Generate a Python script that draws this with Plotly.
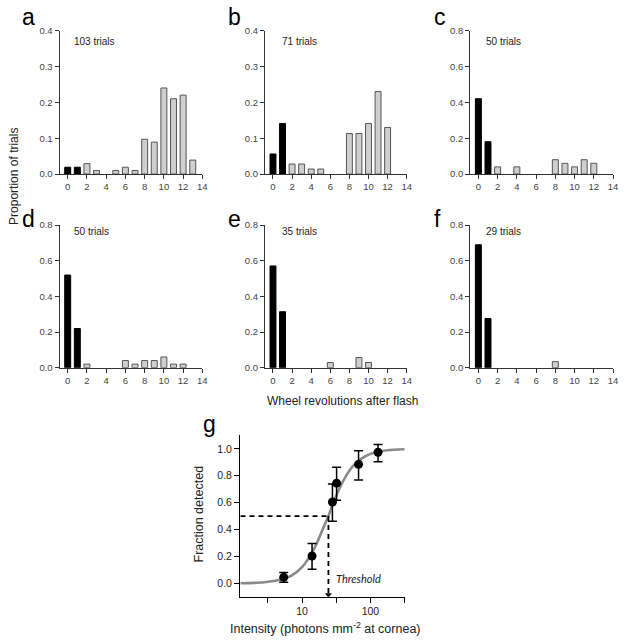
import plotly.graph_objects as go

W, H = 624, 640

# ---------------- data ----------------
revolutions = list(range(14))
panel_letters = ["a", "b", "c", "d", "e", "f"]
panel_trials = ["103 trials", "71 trials", "50 trials", "50 trials", "35 trials", "29 trials"]
prop_a = [0.019, 0.019, 0.029, 0.010, 0.0, 0.010, 0.019, 0.010, 0.097, 0.089, 0.240, 0.210, 0.220, 0.039]
prop_b = [0.056, 0.141, 0.028, 0.028, 0.014, 0.014, 0.0, 0.0, 0.113, 0.113, 0.141, 0.230, 0.130, 0.0]
prop_c = [0.42, 0.18, 0.04, 0.0, 0.04, 0.0, 0.0, 0.0, 0.08, 0.06, 0.04, 0.08, 0.06, 0.0]
prop_d = [0.52, 0.22, 0.02, 0.0, 0.0, 0.0, 0.04, 0.02, 0.04, 0.04, 0.06, 0.02, 0.02, 0.0]
prop_e = [0.571, 0.314, 0.0, 0.0, 0.0, 0.0, 0.029, 0.0, 0.0, 0.057, 0.029, 0.0, 0.0, 0.0]
prop_f = [0.69, 0.276, 0.0, 0.0, 0.0, 0.0, 0.0, 0.0, 0.034, 0.0, 0.0, 0.0, 0.0, 0.0]
panel_props = [prop_a, prop_b, prop_c, prop_d, prop_e, prop_f]
panel_ymax = [0.4, 0.4, 0.8, 0.8, 0.8, 0.8]

intensity = [5.4, 14.0, 27.8, 32.0, 67.0, 129.0]
fraction = [0.044, 0.203, 0.605, 0.745, 0.885, 0.975]
err_plus = [0.036, 0.092, 0.133, 0.118, 0.102, 0.058]
err_minus = [0.037, 0.099, 0.143, 0.128, 0.116, 0.071]

curve_intensity = [1.26, 2, 3, 5, 7, 10, 13, 16, 20, 24.3, 30, 40, 55, 75, 100, 150, 220, 316]
curve_fraction = [0.0, 0.003, 0.009, 0.027, 0.056, 0.12, 0.2, 0.285, 0.4, 0.5, 0.625, 0.763, 0.87, 0.93, 0.963, 0.985, 0.994, 0.997]
threshold = 24.3
threshold_level = 0.5

g_major_ticks = [10, 100]
g_minor_ticks = [3.162, 31.62, 316.2]

# ---------------- layout geometry (px) ----------------
col_px = [(60, 204), (267, 410), (474, 618)]
row_px = [(25, 171), (223, 368)]

def xd(a, b):
    return [a / W, b / W]

def yd(top, bottom):
    return [1 - bottom / H, 1 - top / H]

FONT = "Liberation Sans, Arial, sans-serif"
AX = "#333333"

fig = go.Figure()
layout = dict(
    width=W, height=H, margin=dict(l=0, r=0, t=0, b=0),
    paper_bgcolor="white", plot_bgcolor="white", showlegend=False,
    font=dict(family=FONT, color="#222"),
)
annotations = []

for i, props in enumerate(panel_props):
    r, c = divmod(i, 3)
    n = i + 1
    xa = "x" if n == 1 else f"x{n}"
    ya = "y" if n == 1 else f"y{n}"
    nz = [(x, y) for x, y in zip(revolutions, props) if y > 0]
    blk = [(x, y) for x, y in nz if x < 2]
    gry = [(x, y) for x, y in nz if x >= 2]
    fig.add_trace(go.Bar(x=[p[0] for p in gry], y=[p[1] for p in gry], width=0.62,
                         xaxis=xa, yaxis=ya,
                         marker=dict(color="#cfcfcf", line=dict(color="#555555", width=1))))
    fig.add_trace(go.Bar(x=[p[0] for p in blk], y=[p[1] for p in blk], width=0.62,
                         xaxis=xa, yaxis=ya,
                         marker=dict(color="black", line=dict(color="black", width=1))))
    ymax = panel_ymax[i]
    step = 0.1 if ymax < 0.5 else 0.2
    yt = [round(k * step, 2) for k in range(int(round(ymax / step)) + 1)]
    layout["xaxis" if n == 1 else f"xaxis{n}"] = dict(
        domain=xd(*col_px[c]), anchor=ya, range=[-0.85, 14.001],
        tickvals=list(range(0, 15, 2)), ticks="outside", ticklen=4, tickcolor=AX,
        showline=True, linecolor=AX, linewidth=1, showgrid=False, zeroline=False,
        ticklabeloverflow="allow",
        tickfont=dict(size=9.5, color="#444"), fixedrange=True)
    layout["yaxis" if n == 1 else f"yaxis{n}"] = dict(
        domain=yd(*row_px[r]), anchor=xa, range=[0, ymax],
        tickvals=yt, tickformat=".1f", ticks="outside", ticklen=4, tickcolor=AX,
        showline=True, linecolor=AX, linewidth=1, showgrid=False, zeroline=False,
        tickfont=dict(size=9.5, color="#444"))
    lx = [20, 228, 435][c]
    ly = [11, 217][r]
    annotations.append(dict(text=panel_letters[i], xref="paper", yref="paper",
                            x=lx / W, y=1 - ly / H, xanchor="left", yanchor="middle",
                            showarrow=False, font=dict(size=23, family=FONT, color="black")))
    tx = [73, 282, 488][c]
    ty = [36, 229][r]
    annotations.append(dict(text=panel_trials[i], xref="paper", yref="paper",
                            x=tx / W, y=1 - ty / H, xanchor="left", yanchor="middle",
                            showarrow=False, font=dict(size=10, family=FONT, color="#222")))

# ---------------- panel g ----------------
fig.add_trace(go.Scatter(x=curve_intensity, y=curve_fraction, mode="lines", line_shape="spline",
                         line=dict(color="#8a8a8a", width=2.6), xaxis="x7", yaxis="y7"))
fig.add_trace(go.Scatter(x=[1.26, threshold], y=[threshold_level, threshold_level], mode="lines",
                         line=dict(color="black", width=1.8, dash="5px,4px"), xaxis="x7", yaxis="y7"))
fig.add_trace(go.Scatter(x=[threshold, threshold], y=[threshold_level, -0.075], mode="lines",
                         line=dict(color="black", width=1.8, dash="5px,4px"), xaxis="x7", yaxis="y7"))
fig.add_trace(go.Scatter(x=[threshold], y=[-0.085], mode="markers",
                         marker=dict(symbol="triangle-down", size=6, color="black"),
                         xaxis="x7", yaxis="y7"))
fig.add_trace(go.Scatter(x=intensity, y=fraction, mode="markers",
                         marker=dict(color="black", size=9),
                         error_y=dict(type="data", array=err_plus, arrayminus=err_minus,
                                      color="black", thickness=1.5, width=4.5),
                         xaxis="x7", yaxis="y7"))

layout["xaxis7"] = dict(
    type="log", domain=xd(242, 408), anchor="y7", range=[0.094, 2.501],
    tickvals=g_major_ticks, ticktext=[str(v) for v in g_major_ticks],
    ticks="outside", ticklen=5, tickcolor="black",
    minor=dict(tickvals=g_minor_ticks, ticks="outside", ticklen=5, tickcolor="black", showgrid=False),
    showline=True, linecolor="black", linewidth=1, showgrid=False, zeroline=False,
    tickfont=dict(size=10.5, color="#222"))
layout["yaxis7"] = dict(
    domain=yd(437, 601), anchor="x7", range=[-0.1, 1.1],
    tickvals=[0, 0.2, 0.4, 0.6, 0.8, 1.0], tickformat=".1f", ticks="outside", ticklen=5,
    tickcolor="black", showline=True, linecolor="black", linewidth=1, showgrid=False,
    zeroline=False, tickfont=dict(size=10.5, color="#222"))

annotations += [
    dict(text="g", xref="paper", yref="paper", x=203 / W, y=1 - 425 / H, xanchor="left",
         yanchor="middle", showarrow=False, font=dict(size=23, family=FONT, color="black")),
    dict(text="Threshold", xref="paper", yref="paper", x=337 / W, y=1 - 583 / H, xanchor="left",
         yanchor="middle", showarrow=False,
         font=dict(size=11, family="Lato, sans-serif", color="#222", style="italic")),
    dict(text="Fraction detected", xref="paper", yref="paper", x=201 / W, y=1 - 517 / H,
         xanchor="center", yanchor="middle", textangle=-90, showarrow=False,
         font=dict(size=12.5, family=FONT, color="#222")),
    dict(text="Intensity (photons mm<sup>-2</sup> at cornea)", xref="paper", yref="paper",
         x=328 / W, y=0.0, yshift=-3, xanchor="center", yanchor="bottom", showarrow=False,
         font=dict(size=12.5, family=FONT, color="#222")),
    dict(text="Proportion of trials", xref="paper", yref="paper", x=14 / W, y=1 - 173 / H,
         xanchor="center", yanchor="middle", textangle=-90, showarrow=False,
         font=dict(size=12, family=FONT, color="#222")),
    dict(text="Wheel revolutions after flash", xref="paper", yref="paper", x=345 / W,
         y=1 - 402 / H, xanchor="center", yanchor="middle", showarrow=False,
         font=dict(size=12, family=FONT, color="#222")),
]
layout["annotations"] = annotations
fig.update_layout(**layout)
fig.write_html("out.html", config={"displayModeBar": False},
               post_script="document.body.style.margin='0px';document.body.style.padding='0px';")
